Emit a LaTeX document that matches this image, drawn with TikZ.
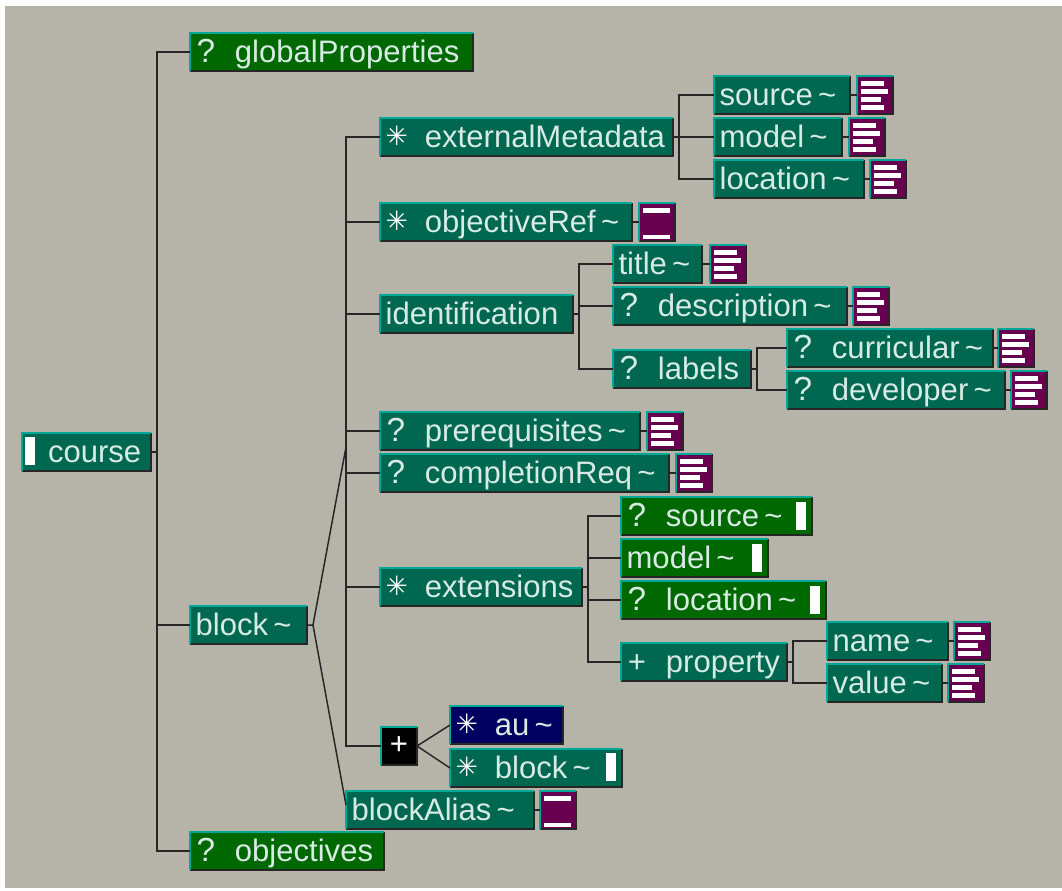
\documentclass[tikz,border=0pt]{standalone}
\usepackage{fontspec}
\setmainfont{Liberation Sans}
\newfontfamily\djv{DejaVu Sans}
\definecolor{bgc}{RGB}{182,180,168}
\definecolor{tealc}{RGB}{0,104,80}
\definecolor{greenc}{RGB}{0,104,0}
\definecolor{navyc}{RGB}{0,0,96}
\definecolor{purplec}{RGB}{104,0,80}
\definecolor{edgec}{RGB}{0,168,152}
\definecolor{textc}{RGB}{215,235,228}
\tikzset{
  x=0.75pt,y=-0.75pt,
  conn/.style={draw=black!85,line width=1.1pt},
  boxn/.style={anchor=north west,inner sep=0pt,outer sep=0pt,font=\fontsize{23.3}{27}\selectfont,text=textc},
  edgetl/.style={draw=edgec,line width=1.1pt},
  edgebr/.style={draw=black!85,line width=1.5pt},
}
\newcommand{\bx}[8]{%
  \pgfmathsetmacro{\ww}{(#4-#2)*0.75}\pgfmathsetmacro{\hh}{(#5-#3)*0.75}%
  \node[boxn,fill=#6,minimum width=\ww pt,minimum height=\hh pt,text width=\ww pt,align=left] (#1) at (#2,#3)
    {\hspace*{4.2pt}\rule[-6.5pt]{0pt}{28pt}#7#8};%
  \draw[edgebr] (#1.north east)--(#1.south east)--(#1.south west);
  \draw[edgetl] (#1.south west)--(#1.north west)--(#1.north east);
}
\newcommand{\mk}[1]{\makebox[29.5pt][l]{#1}}
\newcommand{\st}{\mk{\hspace*{0pt}\raisebox{1pt}{\color{white}\fontsize{20}{20}\djv ✳}}}
\newcommand{\qm}{\mk{\hspace*{0.8pt}\fontsize{25}{27}\selectfont ?}}
\newcommand{\ic}[4]{%
  \node[anchor=north west,inner sep=0pt,outer sep=0pt,fill=purplec,minimum width=27pt,minimum height=28.5pt] (#1) at (#2,#3) {};
  \draw[edgebr] (#1.north east)--(#1.south east)--(#1.south west);
  \draw[edgetl] (#1.south west)--(#1.north west)--(#1.north east);
  \ifnum#4=1
    \fill[white] (#2+4,#3+5) rectangle ++(23,4.5);
    \fill[white] (#2+4,#3+13) rectangle ++(27,4.5);
    \fill[white] (#2+4,#3+21) rectangle ++(19.5,4.5);
    \fill[white] (#2+4,#3+29) rectangle ++(23,4.5);
  \else
    \fill[white] (#2+4,#3+5) rectangle ++(27,4.5);
    \fill[white] (#2+4,#3+31.5) rectangle ++(27,4.5);
  \fi
}
\begin{document}
\begin{tikzpicture}
\useasboundingbox (0,0) rectangle (1062,890);
\fill[white] (0,0) rectangle (1062,890);
\fill[bgc] (5,6) rectangle (1062,888);

\bx{course}{22}{433}{151}{471}{tealc}{\hspace*{15.3pt}}{course}
\fill[white] (25,437) rectangle ++(10,28);
\bx{gp}{190}{33}{473}{71}{greenc}{\qm}{globalProperties}
\bx{blk}{190}{606}{307}{644}{tealc}{}{block\,\textasciitilde}
\bx{obj}{190}{832}{384}{870}{greenc}{\qm}{objectives}

\bx{em}{380}{118}{673}{156}{tealc}{\st}{externalMetadata}
\bx{src}{714}{76}{850}{114}{tealc}{}{source\,\textasciitilde}
\ic{srci}{857}{76}{1}
\bx{mdl}{714}{118}{842}{156}{tealc}{}{model\,\textasciitilde}
\ic{mdli}{849}{118}{1}
\bx{loc}{714}{160}{864}{198}{tealc}{}{location\,\textasciitilde}
\ic{loci}{870}{160}{1}
\bx{oref}{380}{203}{632}{241}{tealc}{\st}{objectiveRef\,\textasciitilde}
\ic{orefi}{639}{203}{2}
\bx{idn}{380}{295}{573}{333}{tealc}{}{identification}
\bx{ttl}{613}{245}{702}{283}{tealc}{}{title\,\textasciitilde}
\ic{ttli}{710}{245}{1}
\bx{dsc}{613}{287}{847}{325}{tealc}{\qm}{description\,\textasciitilde}
\ic{dsci}{853}{287}{1}
\bx{lbl}{613}{350}{751}{388}{tealc}{\qm}{labels}
\bx{cur}{787}{329}{993}{367}{tealc}{\qm}{curricular\,\textasciitilde}
\ic{curi}{998}{329}{1}
\bx{dev}{787}{371}{1005}{409}{tealc}{\qm}{developer\,\textasciitilde}
\ic{devi}{1011}{371}{1}
\bx{pre}{380}{412}{640}{450}{tealc}{\qm}{prerequisites\,\textasciitilde}
\ic{prei}{647}{412}{1}
\bx{cmp}{380}{454}{669}{492}{tealc}{\qm}{completionReq\,\textasciitilde}
\ic{cmpi}{676}{454}{1}
\bx{ext}{380}{568}{582}{606}{tealc}{\st}{extensions}
\bx{xsrc}{621}{497}{812}{535}{greenc}{\qm}{source\,\textasciitilde}
\fill[white] (796,502) rectangle ++(10,28);
\bx{xmdl}{621}{539}{768}{577}{greenc}{}{model\,\textasciitilde}
\fill[white] (752,544) rectangle ++(10,28);
\bx{xloc}{621}{581}{826}{619}{greenc}{\qm}{location\,\textasciitilde}
\fill[white] (810,586) rectangle ++(10,28);
\bx{prp}{621}{643}{787}{681}{tealc}{\mk{\hspace*{1pt}+}}{property}
\bx{nam}{827}{622}{948}{660}{tealc}{}{name\,\textasciitilde}
\ic{nami}{954}{622}{1}
\bx{val}{827}{664}{942}{702}{tealc}{}{value\,\textasciitilde}
\ic{vali}{948}{664}{1}
\node[boxn,fill=black,text=white,minimum width=27pt,minimum height=28.5pt,align=center] (plus) at (381,727) {+};
\draw[edgebr] (plus.north east)--(plus.south east)--(plus.south west);
\draw[edgetl] (plus.south west)--(plus.north west)--(plus.north east);
\bx{au}{450}{706}{563}{744}{navyc}{\st}{au\,\textasciitilde}
\bx{cblk}{450}{749}{622}{787}{tealc}{\st}{block\,\textasciitilde}
\fill[white] (606,753) rectangle ++(10,28);
\bx{als}{346}{791}{534}{829}{tealc}{}{blockAlias\,\textasciitilde}
\ic{alsi}{540}{791}{2}

\coordinate (t0) at (157,452);
\draw[conn] (course.east)--(t0);
\draw[conn] (gp.west)-|(t0);
\draw[conn] (blk.west)-|(t0);
\draw[conn] (obj.west)-|(t0);
\coordinate (b0) at (313,625);
\coordinate (t1) at (346,447);
\coordinate (alsin) at (346,805);
\draw[conn] (blk.east)--(b0)--(t1);
\draw[conn] (b0)--(alsin);
\foreach \n in {em,oref,idn,pre,cmp,ext,plus}{\draw[conn] (\n.west)-|(t1);}
\coordinate (t2) at (679,137);
\draw[conn] (em.east)--(t2);
\foreach \n in {src,mdl,loc}{\draw[conn] (\n.west)-|(t2);}
\coordinate (t3) at (579,314);
\draw[conn] (idn.east)--(t3);
\foreach \n in {ttl,dsc,lbl}{\draw[conn] (\n.west)-|(t3);}
\coordinate (t4) at (757,369);
\draw[conn] (lbl.east)--(t4);
\foreach \n in {cur,dev}{\draw[conn] (\n.west)-|(t4);}
\coordinate (t5) at (588,587);
\draw[conn] (ext.east)--(t5);
\foreach \n in {xsrc,xmdl,xloc,prp}{\draw[conn] (\n.west)-|(t5);}
\coordinate (t6) at (793,662);
\draw[conn] (prp.east)--(t6);
\foreach \n in {nam,val}{\draw[conn] (\n.west)-|(t6);}
\draw[conn] (plus.east)--(au.west);
\draw[conn] (plus.east)--(cblk.west);
\draw[conn] (src.east)--(srci.west);
\draw[conn] (mdl.east)--(mdli.west);
\draw[conn] (loc.east)--(loci.west);
\draw[conn] (oref.east)--(orefi.west);
\draw[conn] (ttl.east)--(ttli.west);
\draw[conn] (dsc.east)--(dsci.west);
\draw[conn] (cur.east)--(curi.west);
\draw[conn] (dev.east)--(devi.west);
\draw[conn] (pre.east)--(prei.west);
\draw[conn] (cmp.east)--(cmpi.west);
\draw[conn] (nam.east)--(nami.west);
\draw[conn] (val.east)--(vali.west);
\draw[conn] (als.east)--(alsi.west);
\end{tikzpicture}
\end{document}
